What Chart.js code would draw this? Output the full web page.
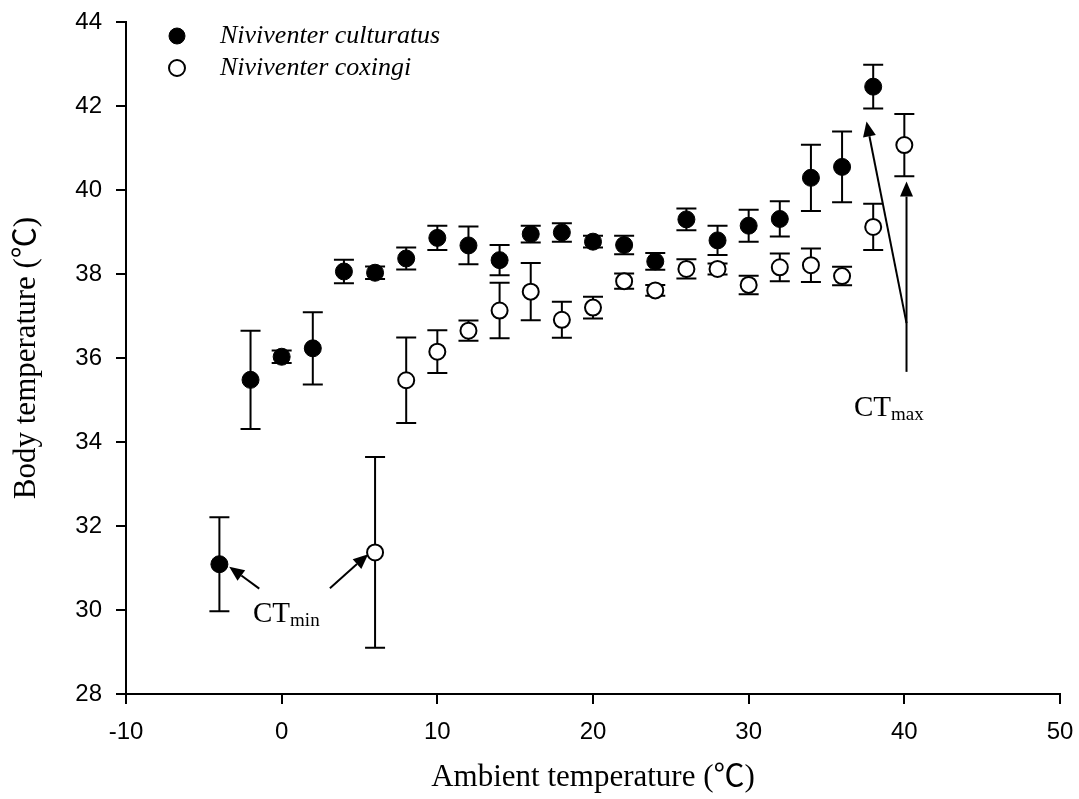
<!DOCTYPE html>
<html>
<head>
<meta charset="utf-8">
<title>Body temperature</title>
<script src="https://cdn.jsdelivr.net/npm/chart.js@4.4.1/dist/chart.umd.min.js"></script>
<style>
    html, body { margin: 0; padding: 0; background: #fff; }
    #grafico { display: block; }
</style>
</head>
<body>
<canvas id="grafico" width="1079" height="799"></canvas>
<script>
// Ambient temperature (°C) at each trial and body temperature mean ± SE
const tempsCulturatus = [-4, -2, 0, 2, 4, 6, 8, 10, 12, 14, 16, 18, 20, 22, 24, 26, 28, 30, 32, 34, 36, 38];
const meanCulturatus = [31.09, 35.48, 36.03, 36.23, 38.06, 38.03, 38.37, 38.86, 38.68, 38.33, 38.95, 38.99, 38.77, 38.69, 38.30, 39.30, 38.80, 39.15, 39.31, 40.29, 40.55, 42.46];
const seCulturatus = [1.12, 1.17, 0.15, 0.86, 0.28, 0.15, 0.26, 0.29, 0.45, 0.36, 0.20, 0.22, 0.14, 0.22, 0.20, 0.26, 0.35, 0.38, 0.42, 0.79, 0.84, 0.52];

const tempsCoxingi = [6, 8, 10, 12, 14, 16, 18, 20, 22, 24, 26, 28, 30, 32, 34, 36, 38, 40];
const meanCoxingi = [31.37, 35.47, 36.15, 36.65, 37.13, 37.58, 36.91, 37.20, 37.83, 37.61, 38.12, 38.12, 37.74, 38.16, 38.21, 37.95, 39.12, 41.07];
const seCoxingi = [2.27, 1.02, 0.51, 0.24, 0.66, 0.68, 0.43, 0.26, 0.18, 0.13, 0.23, 0.13, 0.22, 0.33, 0.40, 0.22, 0.55, 0.74];

const xTicks = [-10, 0, 10, 20, 30, 40, 50];
const yTicks = [28, 30, 32, 34, 36, 38, 40, 42, 44];

(function () {
    const canvas = document.getElementById('grafico');

    if (!canvas || typeof Chart === 'undefined') {
        return;
    }

    const serif = "'Times New Roman', 'Liberation Serif', 'Noto Sans CJK SC', serif";
    const sans = "Arial, 'Liberation Sans', sans-serif";

    function montarPontos(temps, medias, erros) {
        return temps.map(function (t, i) {
            return { x: t, y: medias[i], se: erros[i] };
        });
    }

    // vertical bars with caps, drawn under the markers
    const barrasErro = {
        id: 'barrasErro',
        beforeDatasetsDraw: function (chart) {
            const ctx = chart.ctx;
            const xs = chart.scales.x;
            const ys = chart.scales.y;

            ctx.save();
            ctx.strokeStyle = '#000';
            ctx.lineWidth = 2;
            chart.data.datasets.forEach(function (ds) {
                ds.data.forEach(function (p) {
                    const x = xs.getPixelForValue(p.x);
                    const topo = ys.getPixelForValue(p.y + p.se);
                    const base = ys.getPixelForValue(p.y - p.se);
                    ctx.beginPath();
                    ctx.moveTo(x, topo);
                    ctx.lineTo(x, base);
                    ctx.moveTo(x - 10, topo);
                    ctx.lineTo(x + 10, topo);
                    ctx.moveTo(x - 10, base);
                    ctx.lineTo(x + 10, base);
                    ctx.stroke();
                });
            });
            ctx.restore();
        }
    };

    function seta(ctx, x0, y0, x1, y1) {
        const ang = Math.atan2(y1 - y0, x1 - x0);
        const comp = 15;
        const meia = 6.5;
        const bx = x1 - comp * Math.cos(ang);
        const by = y1 - comp * Math.sin(ang);

        ctx.beginPath();
        ctx.moveTo(x0, y0);
        ctx.lineTo(bx, by);
        ctx.stroke();

        ctx.beginPath();
        ctx.moveTo(x1, y1);
        ctx.lineTo(bx + meia * Math.sin(ang), by - meia * Math.cos(ang));
        ctx.lineTo(bx - meia * Math.sin(ang), by + meia * Math.cos(ang));
        ctx.closePath();
        ctx.fill();
    }

    function rotuloCT(ctx, x, y, sub) {
        ctx.font = '29px ' + serif;
        ctx.textAlign = 'left';
        ctx.textBaseline = 'alphabetic';
        ctx.fillText('CT', x, y);
        const w = ctx.measureText('CT').width;
        ctx.font = '19px ' + serif;
        ctx.fillText(sub, x + w, y + 4);
    }

    // CTmin / CTmax labels and arrows, positioned in data units
    const anotacoes = {
        id: 'anotacoes',
        afterDraw: function (chart) {
            const ctx = chart.ctx;
            const xs = chart.scales.x;
            const ys = chart.scales.y;
            const px = function (v) { return xs.getPixelForValue(v); };
            const py = function (v) { return ys.getPixelForValue(v); };

            ctx.save();
            ctx.fillStyle = '#000';
            ctx.strokeStyle = '#000';
            ctx.lineWidth = 2;

            seta(ctx, px(-1.44), py(30.51), px(-3.37), py(31.03));
            seta(ctx, px(3.10), py(30.52), px(5.56), py(31.33));
            rotuloCT(ctx, px(-1.84), py(29.71), 'min');

            seta(ctx, px(40.14), py(36.83), px(37.57), py(41.63));
            seta(ctx, px(40.14), py(35.67), px(40.14), py(40.20));
            rotuloCT(ctx, px(36.76), py(34.62), 'max');

            ctx.restore();
        }
    };

    // two-row legend in the upper left corner of the plot
    const legenda = {
        id: 'legendaEspecies',
        afterDraw: function (chart) {
            const ctx = chart.ctx;
            const itens = [
                { texto: 'Niviventer culturatus', ds: chart.data.datasets[0], y: 36 },
                { texto: 'Niviventer coxingi', ds: chart.data.datasets[1], y: 68 }
            ];

            ctx.save();
            itens.forEach(function (item) {
                ctx.beginPath();
                ctx.arc(177, item.y, 8, 0, Math.PI * 2);
                ctx.fillStyle = item.ds.backgroundColor;
                ctx.fill();
                ctx.lineWidth = item.ds.borderWidth;
                ctx.strokeStyle = item.ds.borderColor;
                ctx.stroke();

                ctx.fillStyle = '#000';
                ctx.font = 'italic 26px ' + serif;
                ctx.textAlign = 'left';
                ctx.textBaseline = 'middle';
                ctx.fillText(item.texto, 220, item.y);
            });
            ctx.restore();
        }
    };

    const eixo = {
        display: true,
        drawOnChartArea: false,
        drawTicks: true,
        tickLength: 10,
        color: '#000',
        lineWidth: 2
    };

    new Chart(canvas, {
        type: 'scatter',
        data: {
            datasets: [{
                label: 'Niviventer culturatus',
                data: montarPontos(tempsCulturatus, meanCulturatus, seCulturatus),
                backgroundColor: '#000',
                borderColor: '#000',
                borderWidth: 1,
                pointRadius: 8.5,
                pointHoverRadius: 8.5
            }, {
                label: 'Niviventer coxingi',
                data: montarPontos(tempsCoxingi, meanCoxingi, seCoxingi),
                backgroundColor: '#fff',
                borderColor: '#000',
                borderWidth: 2,
                pointRadius: 8,
                pointHoverRadius: 8
            }]
        },
        options: {
            responsive: false,
            animation: false,
            layout: {
                padding: { top: 22, right: 19, bottom: 0, left: 0 }
            },
            plugins: {
                legend: { display: false },
                tooltip: { enabled: false }
            },
            scales: {
                x: {
                    type: 'linear',
                    min: -10,
                    max: 50,
                    afterBuildTicks: function (scale) {
                        scale.ticks = xTicks.map(function (v) { return { value: v }; });
                    },
                    afterFit: function (scale) {
                        scale.height = 105;
                        scale.paddingLeft = 0;
                        scale.paddingRight = 0;
                    },
                    grid: eixo,
                    border: { display: true, color: '#000', width: 2 },
                    ticks: {
                        color: '#000',
                        padding: 14,
                        font: { family: sans, size: 24 }
                    },
                    title: {
                        display: true,
                        text: 'Ambient temperature (℃)',
                        color: '#000',
                        padding: { top: 0, bottom: 3 },
                        font: { family: serif, size: 31 }
                    }
                },
                y: {
                    type: 'linear',
                    min: 28,
                    max: 44,
                    afterBuildTicks: function (scale) {
                        scale.ticks = yTicks.map(function (v) { return { value: v }; });
                    },
                    afterFit: function (scale) {
                        scale.width = 126;
                        scale.paddingTop = 0;
                        scale.paddingBottom = 0;
                    },
                    grid: eixo,
                    border: { display: true, color: '#000', width: 2 },
                    ticks: {
                        color: '#000',
                        padding: 14,
                        font: { family: sans, size: 24 }
                    },
                    title: {
                        display: true,
                        text: 'Body temperature (℃)',
                        color: '#000',
                        padding: { top: 8, bottom: 0 },
                        font: { family: serif, size: 31 }
                    }
                }
            }
        },
        plugins: [barrasErro, anotacoes, legenda]
    });
})();
</script>
</body>
</html>
